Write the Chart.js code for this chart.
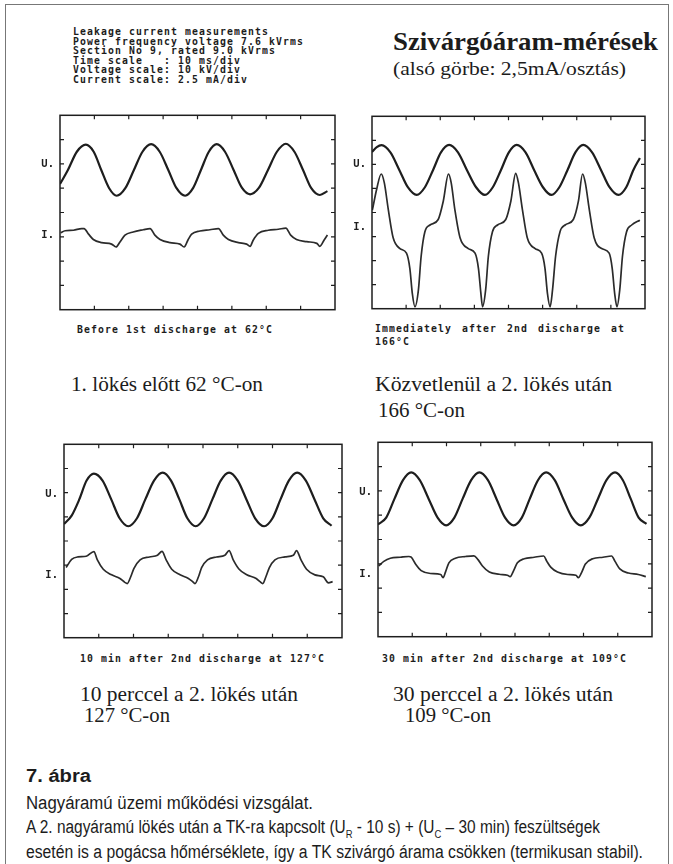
<!DOCTYPE html>
<html>
<head>
<meta charset="utf-8">
<script src="https://cdn.jsdelivr.net/npm/chart.js@4/dist/chart.umd.min.js"></script>
<style>
  html, body { margin: 0; padding: 0; background: #fff; }
  body { width: 673px; height: 864px; position: relative; overflow: hidden; }
  .frame { position: absolute; left: 5px; top: 4px; width: 662px; height: 880px; border: 1px solid #777; }
  .t { position: absolute; white-space: pre; color: #1c1c1c; transform-origin: 0 50%; }
  .mono { font-family: "DejaVu Sans Mono", monospace; font-size: 9.8px; font-weight: bold; letter-spacing: 1.1px; line-height: 9.6px; }
  .serif { font-family: "Liberation Serif", "Times New Roman", serif; line-height: 1; }
  .sans { font-family: "Liberation Sans", Arial, sans-serif; line-height: 1; }
  canvas { position: absolute; }
</style>
</head>
<body>
<div class="frame"></div>

<div class="t mono" style="left:73px; top:27px;">Leakage current measurements
Power frequency voltage 7.6 kVrms
Section No 9, rated 9.0 kVrms
Time scale   : 10 ms/div
Voltage scale: 10 kV/div
Current scale: 2.5 mA/div</div>

<div class="t serif" data-w="265" style="left:393px; top:29px; font-size:25px; font-weight:bold;">Szivárgóáram-mérések</div>
<div class="t serif" data-w="233" style="left:393px; top:59px; font-size:19px;">(alsó görbe: 2,5mA/osztás)</div>

<canvas id="scope1" width="303" height="219" style="left:36px; top:103px;"></canvas>
<canvas id="scope2" width="301" height="217" style="left:348px; top:104px;"></canvas>
<canvas id="scope3" width="306" height="218" style="left:40px; top:432px;"></canvas>
<canvas id="scope4" width="302" height="219" style="left:354px; top:430px;"></canvas>

<div class="t mono" style="left:77px; top:325px;">Before 1st discharge at 62°C</div>
<div class="t mono" style="left:375px; top:324px; word-spacing:3px;">Immediately after 2nd discharge at</div>
<div class="t mono" style="left:375px; top:337px;">166°C</div>

<div class="t serif" data-w="192" style="left:71px; top:374px; font-size:20px;">1. lökés előtt 62 °C-on</div>
<div class="t serif" data-w="237" style="left:375px; top:374px; font-size:20px;">Közvetlenül a 2. lökés után</div>
<div class="t serif" data-w="87" style="left:378px; top:400px; font-size:20px;">166 °C-on</div>

<div class="t mono" style="left:80px; top:654px;">10 min after 2nd discharge at 127°C</div>
<div class="t mono" style="left:382px; top:654px;">30 min after 2nd discharge at 109°C</div>

<div class="t serif" data-w="218" style="left:80px; top:684px; font-size:20px;">10 perccel a 2. lökés után</div>
<div class="t serif" data-w="86" style="left:84px; top:705px; font-size:20px;">127 °C-on</div>
<div class="t serif" data-w="220" style="left:393px; top:684px; font-size:20px;">30 perccel a 2. lökés után</div>
<div class="t serif" data-w="86" style="left:405px; top:705px; font-size:20px;">109 °C-on</div>

<div class="t sans" data-w="65" style="left:26px; top:767px; font-size:18px; font-weight:bold;">7. ábra</div>
<div class="t sans" data-w="287" style="left:26px; top:794px; font-size:18px;">Nagyáramú üzemi működési vizsgálat.</div>
<div class="t sans" data-w="574" style="left:26px; top:818px; font-size:18px;">A 2. nagyáramú lökés után a TK-ra kapcsolt (U<sub style="font-size:11px">R</sub> - 10 s) + (U<sub style="font-size:11px">C</sub> – 30 min) feszültségek</div>
<div class="t sans" data-w="617" style="left:26px; top:843px; font-size:18px;">esetén is a pogácsa hőmérséklete, így a TK szivárgó árama csökken (termikusan stabil).</div>

<script>
// time axis in ms (8 div x 10 ms), vertical axis in divisions (0 = bottom, 8 = top)
const timeDivs = [10, 20, 30, 40, 50, 60, 70];
const levelDivs = [1, 2, 3, 4, 5, 6, 7];

// label heights of the "U." and "I." markers, per panel
const uLabelLevels = [6.0, 6.0, 5.95, 5.95];
const iLabelLevels = [3.08, 3.4, 2.6, 2.56];

// --- panel 1: before 1st discharge, 62 °C ---
const voltage1 = [
    [0, 5.17], [2.3, 5.75], [4.9, 6.5], [7.5, 6.79], [9.8, 6.5], [12.0, 5.75], [14.3, 5.0], [16.5, 4.69],
    [19.0, 5.0], [21.5, 5.75], [24.0, 6.5], [26.5, 6.81], [29.0, 6.5], [31.5, 5.75], [33.9, 5.0], [36.4, 4.69],
    [38.7, 5.0], [41.0, 5.75], [43.3, 6.5], [45.6, 6.81], [48.0, 6.5], [50.5, 5.75], [52.9, 5.02], [55.3, 4.75],
    [57.9, 5.02], [60.5, 5.75], [63.1, 6.5], [65.7, 6.83], [68.2, 6.5], [70.7, 5.75], [73.1, 5.0], [75.6, 4.72],
    [77.8, 4.88]
];
const current1 = [
    [0.2, 3.17], [1.5, 3.25], [3.9, 3.27], [6.3, 3.34], [7.0, 3.34], [8.3, 3.11], [9.7, 2.89], [12.1, 2.76],
    [15.0, 2.70], [16.3, 2.58], [17.5, 2.80], [18.9, 3.07], [21.3, 3.20], [24.2, 3.29], [26.2, 3.34], [27.6, 3.07],
    [29.1, 2.89], [32.0, 2.76], [34.9, 2.70], [36.1, 2.58], [37.3, 2.89], [38.3, 3.11], [40.7, 3.24], [43.6, 3.29],
    [46.1, 3.34], [47.5, 3.07], [49.0, 2.89], [51.9, 2.76], [54.3, 2.70], [55.3, 2.61], [56.2, 2.86], [57.7, 3.14],
    [60.6, 3.27], [63.5, 3.31], [65.7, 3.36], [67.1, 3.07], [68.8, 2.89], [71.8, 2.80], [74.7, 2.73], [75.6, 2.61],
    [76.8, 2.86], [77.8, 3.07]
];

// --- panel 2: immediately after 2nd discharge, 166 °C ---
const voltage2 = [
    [0, 6.52], [1.4, 6.72], [2.8, 6.80], [5.4, 6.5], [8.0, 5.77], [10.5, 5.05], [13.1, 4.73],
    [15.5, 5.05], [17.9, 5.77], [20.2, 6.5], [22.6, 6.81], [25.2, 6.5], [27.8, 5.77], [30.5, 5.05], [33.1, 4.73],
    [35.4, 5.05], [37.8, 5.77], [40.1, 6.5], [42.4, 6.81], [45.0, 6.5], [47.5, 5.77], [50.1, 5.05], [52.6, 4.73],
    [54.9, 5.05], [57.3, 5.77], [59.6, 6.5], [61.9, 6.81], [64.5, 6.5], [67.1, 5.77], [69.6, 5.05], [72.2, 4.73],
    [74.5, 5.05], [76.6, 5.77], [78.5, 6.27]
];
const current2 = [
    [0.1, 4.10], [1.4, 4.99], [2.7, 5.60], [3.6, 5.24], [4.8, 4.10], [6.2, 2.95], [8.2, 2.50], [10.1, 2.31],
    [11.1, 1.67], [11.8, 0.65], [12.6, 0.08], [13.6, 0.78], [14.4, 2.18], [15.5, 3.20], [17.0, 3.48], [19.4, 3.71],
    [20.9, 4.48], [22.4, 5.60], [23.2, 5.24], [24.3, 4.10], [25.8, 2.95], [28.2, 2.50], [30.2, 2.31], [31.2, 1.67],
    [31.9, 0.65], [32.4, 0.08], [33.3, 0.78], [34.1, 2.18], [35.3, 3.20], [36.8, 3.48], [39.2, 3.71], [40.7, 4.48],
    [42.1, 5.63], [42.9, 5.24], [44.1, 4.10], [45.5, 2.95], [47.8, 2.50], [49.7, 2.31], [50.7, 1.67], [51.4, 0.65],
    [52.2, 0.08], [52.9, 0.78], [53.8, 2.18], [55.1, 3.20], [56.6, 3.48], [59.0, 3.71], [60.5, 4.48], [61.7, 5.60],
    [62.5, 5.24], [63.7, 4.10], [65.1, 2.95], [67.3, 2.50], [69.5, 2.31], [70.4, 1.67], [71.1, 0.65], [71.8, 0.08],
    [72.6, 0.78], [73.4, 2.18], [74.6, 3.20], [76.1, 3.48], [78.5, 3.68]
];

// --- panel 3: 10 min after 2nd discharge, 127 °C ---
const voltage3 = [
    [0, 4.70], [2.2, 5.05], [4.4, 5.72], [6.5, 6.5], [8.6, 6.79], [11.1, 6.5], [13.6, 5.72], [16.0, 4.94],
    [18.5, 4.61], [21.0, 4.94], [23.4, 5.72], [25.9, 6.5], [28.4, 6.83], [30.8, 6.5], [33.2, 5.72], [35.5, 4.94],
    [37.9, 4.61], [40.3, 4.94], [42.7, 5.72], [45.1, 6.5], [47.5, 6.83], [50.0, 6.5], [52.5, 5.72], [55.0, 4.94],
    [57.6, 4.61], [60.0, 4.94], [62.3, 5.72], [64.7, 6.5], [67.1, 6.83], [69.6, 6.5], [72.1, 5.72], [74.6, 4.94],
    [77.0, 4.63]
];
const current3 = [
    [0.6, 2.90], [2.2, 3.24], [4.0, 3.34], [6.4, 3.37], [8.6, 3.56], [9.6, 3.22], [11.3, 2.83], [13.7, 2.60],
    [16.1, 2.45], [17.5, 2.29], [18.2, 2.24], [19.2, 2.52], [20.1, 2.86], [21.9, 3.22], [24.6, 3.34], [26.9, 3.41],
    [28.2, 3.57], [29.4, 3.22], [31.0, 2.83], [33.4, 2.60], [35.8, 2.45], [37.0, 2.32], [37.7, 2.24], [38.7, 2.52],
    [39.6, 2.90], [41.3, 3.22], [43.9, 3.34], [46.3, 3.41], [47.5, 3.60], [48.7, 3.22], [50.4, 2.83], [52.6, 2.60],
    [55.3, 2.45], [56.4, 2.32], [57.2, 2.24], [58.1, 2.52], [59.1, 2.90], [60.7, 3.22], [63.6, 3.34], [66.0, 3.41],
    [66.9, 3.60], [68.2, 3.22], [69.8, 2.83], [72.2, 2.60], [74.6, 2.52], [76.1, 2.27], [77.3, 2.32]
];

// --- panel 4: 30 min after 2nd discharge, 109 °C ---
const voltage4 = [
    [0, 4.62], [2.4, 4.9], [4.8, 5.67], [7.3, 6.44], [9.7, 6.76], [12.2, 6.44], [14.8, 5.67], [17.4, 4.9],
    [19.9, 4.58], [22.3, 4.9], [24.7, 5.67], [27.2, 6.44], [29.6, 6.76], [32.1, 6.44], [34.6, 5.67], [37.1, 4.9],
    [39.6, 4.58], [42.0, 4.9], [44.3, 5.67], [46.7, 6.44], [49.1, 6.76], [51.6, 6.44], [54.1, 5.67], [56.7, 4.9],
    [59.2, 4.58], [61.7, 4.9], [64.2, 5.67], [66.7, 6.44], [69.2, 6.76], [71.5, 6.44], [73.8, 5.67], [76.1, 4.9],
    [78.4, 4.64]
];
const current4 = [
    [0.2, 2.91], [1.7, 3.10], [3.6, 3.23], [6.5, 3.27], [9.0, 3.30], [9.7, 3.27], [11.0, 2.98], [12.6, 2.72],
    [15.3, 2.60], [18.3, 2.56], [19.0, 2.43], [19.7, 2.66], [20.7, 3.04], [22.6, 3.23], [25.6, 3.30], [28.0, 3.33],
    [29.2, 3.17], [30.5, 2.91], [32.5, 2.66], [35.4, 2.57], [37.8, 2.53], [38.6, 2.47], [39.6, 2.72], [40.7, 3.04],
    [42.7, 3.21], [45.6, 3.27], [48.4, 3.32], [49.3, 3.10], [50.5, 2.85], [52.4, 2.66], [55.4, 2.56], [57.8, 2.53],
    [58.5, 2.43], [59.5, 2.66], [60.5, 2.98], [62.7, 3.21], [65.7, 3.27], [68.2, 3.32], [69.2, 3.10], [70.6, 2.79],
    [73.1, 2.62], [76.0, 2.56], [78.2, 2.47]
];

const INK = '#1e1e1e';

// fit text lines to the measured widths of the scan
document.querySelectorAll('[data-w]').forEach(el => {
    const w = el.getBoundingClientRect().width;
    if (w > 0) el.style.transform = 'scaleX(' + (Number(el.dataset.w) / w) + ')';
});

// oscilloscope frame: box + inward ticks on all four sides
const scopeFrame = {
    id: 'scopeFrame',
    afterDraw(chart) {
        const { ctx, chartArea: a, scales } = chart;
        const len = 4;
        ctx.save();
        ctx.strokeStyle = INK;
        ctx.lineWidth = 1.5;
        ctx.strokeRect(a.left, a.top, a.right - a.left, a.bottom - a.top);
        ctx.lineWidth = 1.2;
        ctx.beginPath();
        timeDivs.forEach(t => {
            const x = scales.x.getPixelForValue(t);
            ctx.moveTo(x, a.top); ctx.lineTo(x, a.top + len);
            ctx.moveTo(x, a.bottom); ctx.lineTo(x, a.bottom - len);
        });
        levelDivs.forEach(v => {
            const y = scales.y.getPixelForValue(v);
            ctx.moveTo(a.left, y); ctx.lineTo(a.left + len, y);
            ctx.moveTo(a.right, y); ctx.lineTo(a.right - len, y);
        });
        ctx.stroke();
        ctx.restore();
    }
};

function makeScope(canvasId, voltage, current, uLevel, iLevel) {
    new Chart(document.getElementById(canvasId), {
        type: 'line',
        data: {
            datasets: [
                { data: voltage, yAxisID: 'y', borderColor: INK, borderWidth: 2.2, pointRadius: 0, cubicInterpolationMode: 'monotone' },
                { data: current, yAxisID: 'y', borderColor: '#2b2b2b', borderWidth: 1.7, pointRadius: 0, cubicInterpolationMode: 'monotone' }
            ]
        },
        options: {
            responsive: false,
            animation: false,
            events: [],
            layout: { padding: { left: 0, top: 4, right: 4, bottom: 4 } },
            plugins: { legend: { display: false }, tooltip: { enabled: false } },
            scales: {
                x: { type: 'linear', min: 0, max: 80, display: false },
                y: { type: 'linear', min: 0, max: 8, display: false },
                lab: {
                    type: 'linear', position: 'left', min: 0, max: 8,
                    afterBuildTicks: s => { s.ticks = [{ value: uLevel }, { value: iLevel }]; },
                    afterFit: s => { s.width = 24; },
                    grid: { display: false, drawTicks: false },
                    border: { display: false },
                    ticks: {
                        autoSkip: false,
                        padding: 6,
                        color: INK,
                        font: { family: 'DejaVu Sans Mono', size: 10.5, weight: 'bold' },
                        callback: v => (v === uLevel ? 'U.' : 'I.')
                    }
                }
            }
        },
        plugins: [scopeFrame]
    });
}

makeScope('scope1', voltage1, current1, uLabelLevels[0], iLabelLevels[0]);
makeScope('scope2', voltage2, current2, uLabelLevels[1], iLabelLevels[1]);
makeScope('scope3', voltage3, current3, uLabelLevels[2], iLabelLevels[2]);
makeScope('scope4', voltage4, current4, uLabelLevels[3], iLabelLevels[3]);
</script>
</body>
</html>
